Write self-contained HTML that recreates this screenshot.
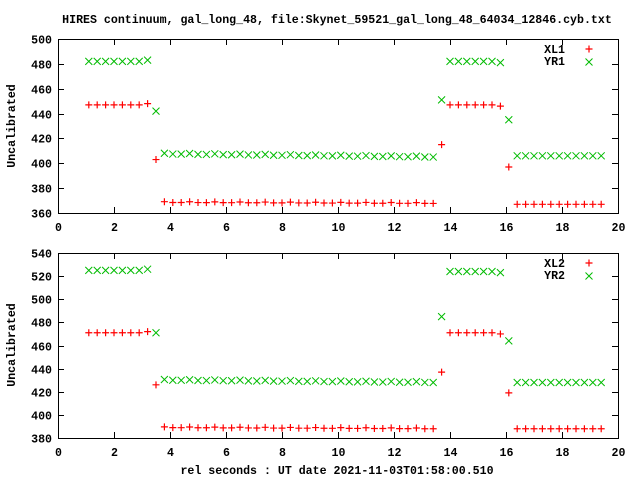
<!DOCTYPE html>
<html><head><meta charset="utf-8"><style>
html,body{margin:0;padding:0;background:#fff}
svg text{font-family:"Liberation Mono",monospace;font-weight:bold;font-size:11.6px;fill:#000}
</style></head><body>
<svg id="s" width="640" height="480" xmlns="http://www.w3.org/2000/svg">
<text x="337" y="23" text-anchor="middle">HIRES continuum, gal_long_48, file:Skynet_59521_gal_long_48_64034_12846.cyb.txt</text>
<text x="337" y="474" text-anchor="middle">rel seconds : UT date 2021-11-03T01:58:00.510</text>
<text transform="translate(15,126) rotate(-90)" text-anchor="middle">Uncalibrated</text>
<text transform="translate(15,345) rotate(-90)" text-anchor="middle">Uncalibrated</text>
</svg>
<script>
var s=document.getElementById('s'),NS='http://www.w3.org/2000/svg';
function el(t,a,txt){var e=document.createElementNS(NS,t);for(var k in a)e.setAttribute(k,a[k]);if(txt!=null)e.textContent=txt;s.appendChild(e);return e;}
var X0=58,X1=618;
function px(x){return X0+(X1-X0)*x/20;}
function panel(top,bot,ymin,ymax,A,B,names){
  function py(v){return bot-(bot-top)*(v-ymin)/(ymax-ymin);}
  el('rect',{x:X0+.5,y:top+.5,width:X1-X0,height:bot-top,fill:'none',stroke:'#000','stroke-width':1});
  for(var v=ymin;v<=ymax;v+=20){var y=Math.round(py(v))+.5;
    el('line',{x1:X0,y1:y,x2:X0+6,y2:y,stroke:'#000'});el('line',{x1:X1-6,y1:y,x2:X1,y2:y,stroke:'#000'});
    el('text',{x:52,y:y+4,'text-anchor':'end'},v);}
  for(var x=0;x<=20;x+=2){var xx=Math.round(px(x))+.5;
    el('line',{x1:xx,y1:top,x2:xx,y2:top+6,stroke:'#000'});el('line',{x1:xx,y1:bot-6,x2:xx,y2:bot,stroke:'#000'});
    el('text',{x:xx,y:bot+18,'text-anchor':'middle'},x);}
  function plus(x,y){el('path',{d:'M'+(x-3.5)+' '+y+'h7M'+x+' '+(y-3.5)+'v7',stroke:'#f00','stroke-width':1.2,fill:'none'});}
  function cross(x,y){el('path',{d:'M'+(x-3.5)+' '+(y-3.5)+'l7 7M'+(x-3.5)+' '+(y+3.5)+'l7 -7',stroke:'#0b0','stroke-width':1,fill:'none'});}
  var xs=[];for(var i=0;i<62;i++)xs.push(1.1+0.3*i);
  for(var i=0;i<xs.length&&xs[i]<19.5;i++){plus(px(xs[i]),py(A(xs[i],i)));cross(px(xs[i]),py(B(xs[i],i)));}
  el('text',{x:565,y:top+14,'text-anchor':'end'},names[0]);plus(589,top+10);
  el('text',{x:565,y:top+26,'text-anchor':'end'},names[1]);cross(589,top+23);
}
function seg(a,b,c,d,e,f,g,h,drift){return function(x,i){
  if(i<8)return a+(i==7?1:0);if(i==8)return b;if(i<=41)return c-drift*(i-9)/32+((i%3)?0:0.6);
  if(i==42)return d;if(i<=49)return e-(i==49?1:0);if(i==50)return f;return g;};}
panel(39,213,360,500,seg(447,403,368.5,415,447,397,367,0,0.8),seg(482,442,407.5,451,482,435,406,0,2.5),['XL1','YR1']);
panel(253,438,380,540,seg(471,426,389,437,471,419,388,0,1),seg(525,471,430,485,524,464,428,0,2),['XL2','YR2']);
</script>
</body></html>
